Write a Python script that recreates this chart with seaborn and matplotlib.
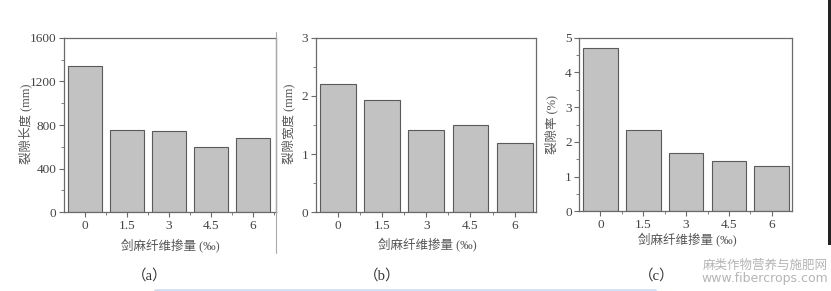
import matplotlib
matplotlib.use("Agg")
import matplotlib.pyplot as plt
import seaborn as sns
import pandas as pd
from matplotlib.ticker import MultipleLocator, FixedLocator
from matplotlib.lines import Line2D
from matplotlib.patches import Rectangle

sns.set_theme(style="white")
plt.rcParams['font.family'] = ['Liberation Serif', 'Noto Sans CJK SC', 'DejaVu Sans']

categories = ["0", "1.5", "3", "4.5", "6"]
crack_length = [1338, 751, 742, 598, 681]
crack_width = [2.21, 1.93, 1.41, 1.495, 1.185]
crack_rate = [4.71, 2.33, 1.68, 1.44, 1.305]

ylabels = ["裂隙长度 (mm)", "裂隙宽度 (mm)", "裂隙率 (%)"]
xlabel = "剑麻纤维掺量 (‰)"
captions = ["（a）", "（b）", "（c）"]

W, H = 831, 291
fig = plt.figure(figsize=(W / 100, H / 100), dpi=100)

def px_axes(l, r, t, b):
    return fig.add_axes([l / W, 1 - b / H, (r - l) / W, (b - t) / H])

specs = [
    dict(box=(64, 276, 37.7, 212.3), data=crack_length, ylim=(0, 1600), major=400, minor=200,
         xlim=(-0.5, 4.55), ylab_x=25, xlab=(170, 246), cap=(150, 276)),
    dict(box=(316, 535.7, 37.7, 212.3), data=crack_width, ylim=(0, 3), major=1, minor=0.5,
         xlim=(-0.495, 4.475), ylab_x=288, xlab=(427, 245), cap=(382, 276)),
    dict(box=(579.3, 792.3, 37.7, 211.3), data=crack_rate, ylim=(0, 5), major=1, minor=0.5,
         xlim=(-0.495, 4.48), ylab_x=551, xlab=(687, 240), cap=(657, 276)),
]

spine_c = "#6a6a6a"
text_c = "#444444"

for i, s in enumerate(specs):
    ax = px_axes(*s["box"])
    df = pd.DataFrame({"x": categories, "y": s["data"]})
    sns.barplot(data=df, x="x", y="y", order=categories, color="#c2c2c2",
                saturation=1, width=0.81, edgecolor="#5a5a5a", linewidth=0.8, ax=ax)
    ax.set_xlim(*s["xlim"])
    ax.set_ylim(*s["ylim"])
    ax.yaxis.set_major_locator(MultipleLocator(s["major"]))
    ax.yaxis.set_minor_locator(MultipleLocator(s["minor"]))
    ax.xaxis.set_minor_locator(FixedLocator([0.5, 1.5, 2.5, 3.5, 4.5]))
    ax.tick_params(axis="both", which="major", direction="out", length=3.5, width=0.8,
                   color=spine_c, labelsize=9.5, labelcolor=text_c, pad=2,
                   left=True, bottom=True)
    ax.tick_params(axis="both", which="minor", direction="out", length=2, width=0.6,
                   color=spine_c, left=True, bottom=True)
    for sp in ax.spines.values():
        sp.set_color(spine_c)
        sp.set_linewidth(0.9)
    ax.set_xlabel("")
    ax.set_ylabel("")
    fig.text(s["ylab_x"] / W, 1 - 124 / H, ylabels[i], rotation=90, ha="center", va="center",
             fontsize=9, color="#555555")
    fig.text(s["xlab"][0] / W, 1 - s["xlab"][1] / H, xlabel, ha="center", va="center",
             fontsize=9, color="#555555")
    fig.text(s["cap"][0] / W, 1 - s["cap"][1] / H, captions[i], ha="center", va="center",
             fontsize=10.5, color="#333333")

# separator line under panel (a) right spine
fig.add_artist(Line2D([276 / W, 276 / W], [1 - 32 / H, 1 - 253 / H], color="#aaaaaa", lw=0.8))
# dark strip at the right edge
fig.add_artist(Rectangle((828 / W, 1 - 245 / H), 3 / W, 245 / H, color="#222222", lw=0))
# light blue line at bottom
fig.add_artist(Line2D([155 / W, 655 / W], [1 - 289.5 / H, 1 - 289.5 / H], color="#cfe0f5", lw=2))

# watermark
fig.text(765 / W, 1 - 265 / H, "麻类作物营养与施肥网", ha="center", va="center",
         fontsize=9, color="#b5b5b5", family=["Noto Sans CJK SC", "DejaVu Sans"])
fig.text(765 / W, 1 - 278.5 / H, "www.fibercrops.com", ha="center", va="center",
         fontsize=9, color="#b5b5b5", family=["DejaVu Sans"])

fig.savefig("out.png", dpi=100)
